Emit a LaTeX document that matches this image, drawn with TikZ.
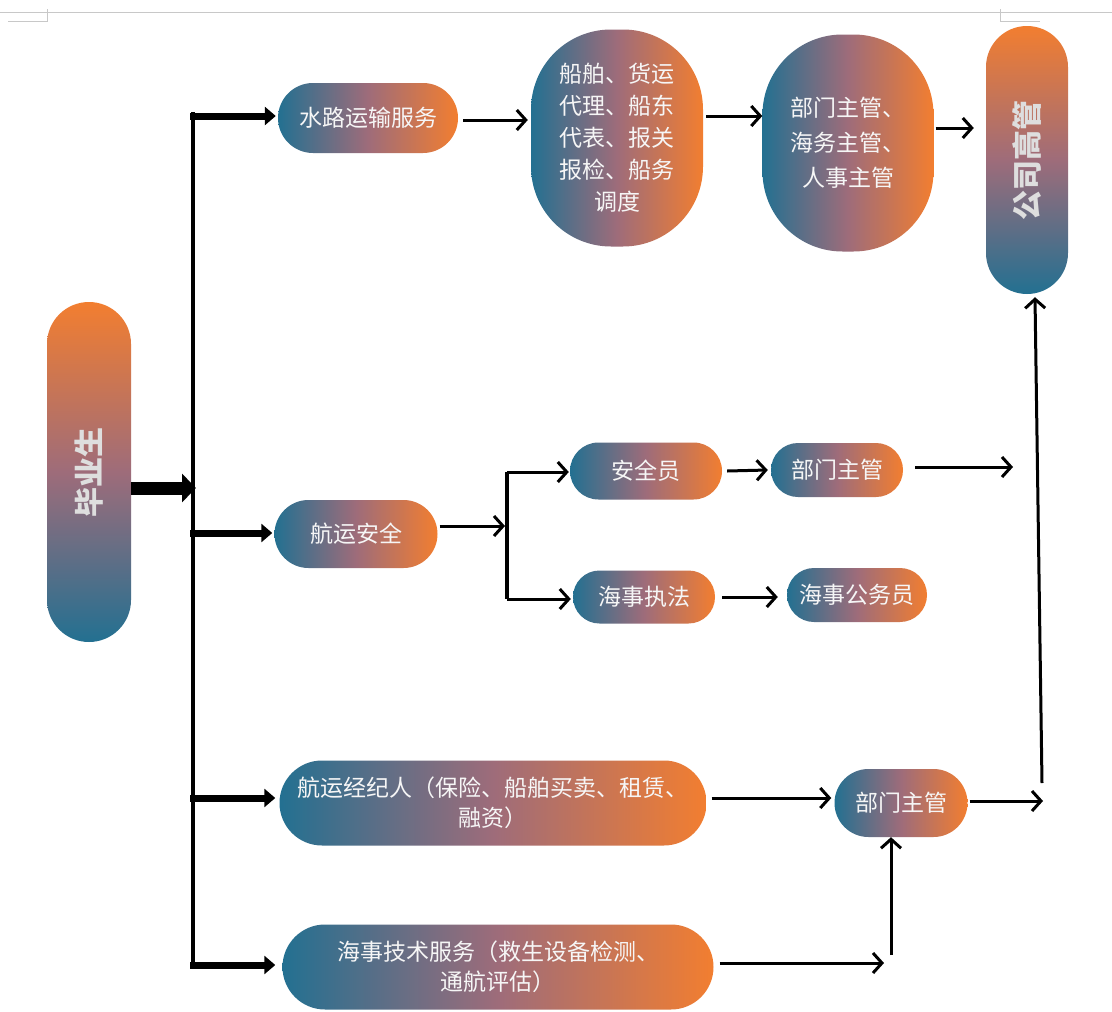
\documentclass[tikz,border=0pt]{standalone}
\usepackage{fontspec}
\newfontfamily\cjk{Noto Sans CJK SC}
\usetikzlibrary{shapes.misc,arrows.meta,calc}
\definecolor{cteal}{RGB}{35,112,145}
\definecolor{cmid}{RGB}{158,108,122}
\definecolor{corange}{RGB}{242,126,48}
\definecolor{ctext}{RGB}{246,246,246}
\definecolor{cvtext}{RGB}{222,222,222}
\definecolor{cmark}{RGB}{200,200,200}
\begin{document}
\begin{tikzpicture}[x=1pt,y=-1pt,
  gradbox/.style={shade, left color=cteal, right color=corange, middle color=cmid,
    draw=none, text=ctext, font=\cjk\fontsize{23}{30}\selectfont, align=center, inner sep=0pt},
  pill/.style={gradbox, rounded rectangle},
  blob/.style={gradbox, rectangle, rounded corners=80pt},
  vpill/.style={shade, top color=corange, bottom color=cteal, middle color=cmid,
    draw=none, rounded rectangle, align=center, inner sep=0pt, rotate=90,
    text=cvtext, font=\cjk\bfseries\fontsize{30}{32}\selectfont},
  tarr/.style={line width=3pt, -{Straight Barb[length=9pt,width=20pt,line width=3pt]}},
  barr/.style={line width=7pt, -{Triangle[length=11pt,width=18pt]}},
  marr/.style={line width=13pt, -{Triangle[length=14pt,width=28pt]}},
  tline/.style={line width=3.5pt},
  pmark/.style={draw=cmark, line width=1pt}]
\useasboundingbox (0,0) rectangle (1112,1012);
\fill[white] (0,0) rectangle (1112,1012);

% page marks
\draw[pmark] (0,12) -- (1112,12);
\draw[pmark] (47,9) -- (47,22) (8,21) -- (47,21);
\draw[pmark] (1000,9) -- (1000,22) (1000,21) -- (1040,21);

% nodes
\node[vpill, minimum width=340pt, minimum height=84pt] (grad) at (89,472) {毕业生};
\node[vpill, minimum width=268pt, minimum height=82pt] (top) at (1027,160) {公司高管};

\node[pill, minimum width=180pt, minimum height=70pt] (s1) at (368,118) {水路运输服务};
\node[blob, minimum width=172pt, minimum height=217pt, font=\cjk\fontsize{23}{32}\selectfont] (s2) at (617,138)
  {船舶、货运\\代理、船东\\代表、报关\\报检、船务\\调度};
\node[blob, minimum width=171pt, minimum height=217pt, font=\cjk\fontsize{23}{35}\selectfont] (s3) at (848,143)
  {部门主管、\\海务主管、\\人事主管};

\node[pill, minimum width=163pt, minimum height=68pt] (a1) at (356,534) {航运安全};
\node[pill, minimum width=152pt, minimum height=57pt] (a2) at (646,471) {安全员};
\node[pill, minimum width=132pt, minimum height=54pt] (a3) at (837,470) {部门主管};
\node[pill, minimum width=142pt, minimum height=53pt] (a4) at (644,597) {海事执法};
\node[pill, minimum width=140pt, minimum height=54pt] (a5) at (857,595) {海事公务员};

\node[pill, minimum width=427pt, minimum height=85pt] (b1) at (493,803)
  {航运经纪人（保险、船舶买卖、租赁、\\融资）};
\node[pill, minimum width=133pt, minimum height=68pt] (b2) at (901,803) {部门主管};
\node[pill, minimum width=431pt, minimum height=85pt] (c1) at (498,967)
  {海事技术服务（救生设备检测、\\通航评估）};

% coordinates
\coordinate (t0) at (193,112);
\coordinate (tE) at (193,968);
\coordinate (t1) at (190,116);
\coordinate (t2) at (190,533);
\coordinate (t3) at (190,798);
\coordinate (t4) at (190,965);
\coordinate (gm) at (196,488);
\coordinate (bT) at (507,472);
\coordinate (bB) at (507,599);
\coordinate (bM) at (505,526);
\coordinate (f1) at (1013,467);
\coordinate (f2) at (1043,801);
\coordinate (f3) at (884,963);
\coordinate (f4) at (891,955);
\coordinate (lr) at (1042,783);

% trunk and main arrow
\draw[tline] (t0) -- (tE);
\draw[marr] (grad.south |- gm) -- (gm);
\draw[barr] (t1) -- ($(t1 -| s1.west)+(-2,0)$);
\draw[barr] (t2) -- ($(t2 -| a1.west)+(-2,0)$);
\draw[barr] (t3) -- ($(t3 -| b1.west)+(-4,0)$);
\draw[barr] (t4) -- ($(t4 -| c1.west)+(-7,0)$);

% top row
\draw[tarr] ([shift={(5,2)}]s1.east) -- ([shift={(-3,-18)}]s2.west);
\draw[tarr] ([shift={(3,-22)}]s2.east) -- ([shift={(0,-27)}]s3.west);
\draw[tarr] ([shift={(2,-15)}]s3.east) -- ([shift={(-12,-32)}]top.north);

% safety row
\draw[tarr] ([shift={(2,-8)}]a1.east) -- (bM);
\draw[tline] (bT) -- (bB);
\draw[tarr] (bT) -- ($(bT -| a2.west)+(-1,0)$);
\draw[tarr] (bB) -- ($(bB -| a4.west)+(-2,0)$);
\draw[tarr] ([xshift=5pt]a2.east) -- ([xshift=-3pt]a3.west);
\draw[tarr] ([shift={(12,-3)}]a3.east) -- (f1);
\draw[tarr] ([xshift=7pt]a4.east) -- ($(a4.east -| a5.west)+(-9,0)$);

% lower rows
\draw[tarr] ([shift={(5,-5)}]b1.east) -- ([shift={(-3,-5)}]b2.west);
\draw[tarr] ([shift={(2,-2)}]b2.east) -- (f2);
\draw[tarr] ([shift={(6,-4)}]c1.east) -- (f3);
\draw[tarr] (f4) -- ([xshift=-10pt]b2.south);
\draw[tarr] (lr) -- ([shift={(8,3)}]top.west);
\end{tikzpicture}
\end{document}
